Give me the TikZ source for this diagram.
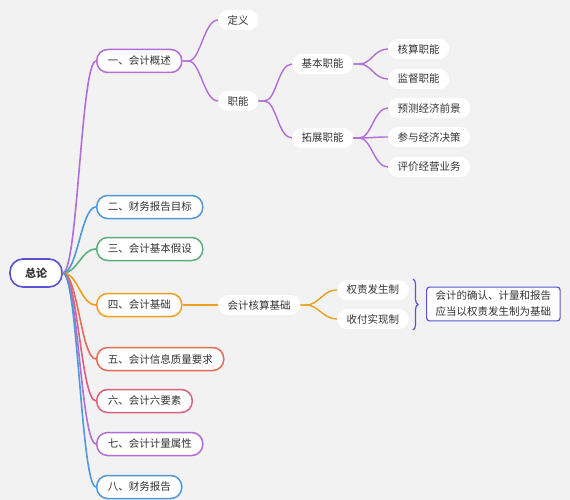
\documentclass[tikz,border=0pt]{standalone}
\usepackage{fontspec}
\setmainfont{Noto Sans CJK SC}
\usepackage{xcolor}
\usepackage{tikz}
\usetikzlibrary{positioning,decorations.pathreplacing}
\definecolor{bggray}{RGB}{242,242,242}
\definecolor{rootblue}{RGB}{90,84,210}
\definecolor{lilac}{RGB}{178,110,216}
\definecolor{skyblue}{RGB}{80,152,216}
\definecolor{leafgreen}{RGB}{92,174,124}
\definecolor{amber}{RGB}{238,160,34}
\definecolor{coral}{RGB}{228,106,90}
\definecolor{rose}{RGB}{218,98,124}
\definecolor{inkgray}{RGB}{51,51,51}

\begin{document}
\begin{tikzpicture}[x=1pt, y=-1pt,
font=\fontsize{10.5}{12}\selectfont, text=inkgray,
rootnode/.style={draw=rootblue, line width=1.6pt, rounded corners=13pt, fill=white, minimum width=52pt, minimum height=28pt, font=\fontsize{11}{12}\selectfont\bfseries},
topic/.style={draw=#1, line width=1.5pt, rounded corners=11pt, fill=white, minimum height=23pt, inner xsep=11pt, anchor=west},
subtopic/.style={fill=white, rounded corners=10pt, minimum height=20pt, inner xsep=9.5pt, anchor=west},
notebox/.style={draw=rootblue, line width=1.2pt, rounded corners=3pt, fill=white, align=center, inner xsep=9pt, inner ysep=4pt, anchor=west, font=\fontsize{10.5}{16}\selectfont},
trunk/.style={draw=#1, line width=1.6pt},
twig/.style={draw=#1, line width=1.4pt, to path={-- ++(6,0) .. controls +(12,0) and +(-14,0) .. (\tikztotarget)}}
]
\fill[bggray] (0,0) rectangle (570,500);
\useasboundingbox (0,0) rectangle (570,500);

\node[rootnode] (root) at (36,273) {总论};
\node[topic=lilac] (t1) at (96,61) {一、会计概述};
\node[topic=skyblue] (t2) at (96,207) {二、财务报告目标};
\node[topic=leafgreen] (t3) at (96,249) {三、会计基本假设};
\node[topic=amber] (t4) at (96,305) {四、会计基础};
\node[topic=coral] (t5) at (96,359) {五、会计信息质量要求};
\node[topic=rose] (t6) at (96,401) {六、会计六要素};
\node[topic=lilac] (t7) at (96,444) {七、会计计量属性};
\node[topic=skyblue] (t8) at (96,487) {八、财务报告};

% 一、会计概述
\node[subtopic] (dy) at (218,20) {定义};
\node[subtopic] (zn) at (218,101) {职能};
\node[subtopic] (jb) at (292,64) {基本职能};
\node[subtopic] (tz) at (292,138) {拓展职能};
\node[subtopic] (hs) at (388,49) {核算职能};
\node[subtopic] (jd) at (388,79) {监督职能};
\node[subtopic] (yc) at (388,108) {预测经济前景};
\node[subtopic] (cy) at (388,137) {参与经济决策};
\node[subtopic] (pj) at (388,167) {评价经营业务};

% 四、会计基础
\node[subtopic] (hsjc) at (218,305) {会计核算基础};
\node[subtopic] (qz) at (337,290) {权责发生制};
\node[subtopic] (sf) at (337,319) {收付实现制};
\node[notebox] (note) at (426,304) {会计的确认、计量和报告\\应当以权责发生制为基础};
\coordinate (bt) at (413,279);
\coordinate (bb) at (413,330);

\draw[trunk=lilac] (root.east) .. controls +(15,0) and +(-15,0) .. (t1.west);
\draw[trunk=skyblue] (root.east) .. controls +(15,0) and +(-15,0) .. (t2.west);
\draw[trunk=leafgreen] (root.east) .. controls +(15,0) and +(-15,0) .. (t3.west);
\draw[trunk=amber] (root.east) .. controls +(15,0) and +(-15,0) .. (t4.west);
\draw[trunk=coral] (root.east) .. controls +(15,0) and +(-15,0) .. (t5.west);
\draw[trunk=rose] (root.east) .. controls +(15,0) and +(-15,0) .. (t6.west);
\draw[trunk=lilac] (root.east) .. controls +(15,0) and +(-15,0) .. (t7.west);
\draw[trunk=skyblue] (root.east) .. controls +(15,0) and +(-15,0) .. (t8.west);

\draw[twig=lilac] (t1.east) to (dy.west);
\draw[twig=lilac] (t1.east) to (zn.west);
\draw[twig=lilac] (zn.east) to (jb.west);
\draw[twig=lilac] (zn.east) to (tz.west);
\draw[twig=lilac] (jb.east) to (hs.west);
\draw[twig=lilac] (jb.east) to (jd.west);
\draw[twig=lilac] (tz.east) to (yc.west);
\draw[twig=lilac] (tz.east) to (cy.west);
\draw[twig=lilac] (tz.east) to (pj.west);

\draw[amber, line width=1.4pt] (t4.east) -- (hsjc.west);
\draw[twig=amber] (hsjc.east) to (qz.west);
\draw[twig=amber] (hsjc.east) to (sf.west);

\draw[rootblue, line width=1.2pt, decorate, decoration={brace, amplitude=5pt}] (bt) -- (bb);
\end{tikzpicture}
\end{document}
